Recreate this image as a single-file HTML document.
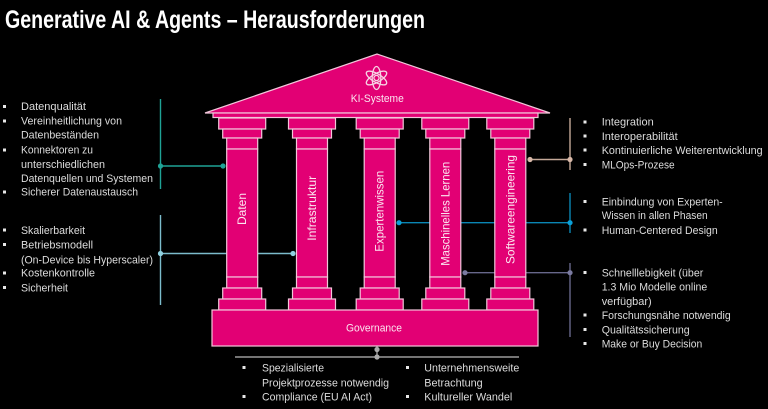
<!DOCTYPE html>
<html><head><meta charset="utf-8"><style>
html,body{margin:0;padding:0;background:#000;}
svg{display:block;}
text{font-family:"Liberation Sans",sans-serif;}
.t{fill:#dcdcdc;font-size:11px;}
.b{fill:#e8e8e8;}
.c{fill:#e20074;stroke:#f2c6da;stroke-width:1.2;}
</style></head><body>
<svg width="768" height="409" viewBox="0 0 768 409" xmlns="http://www.w3.org/2000/svg">
<rect width="768" height="409" fill="#000"/>
<text x="5" y="28" font-size="25" font-weight="bold" fill="#fff" textLength="420" lengthAdjust="spacingAndGlyphs">Generative AI &amp; Agents – Herausforderungen</text>

<!-- connectors -->
<g fill="none" stroke-width="1.4">
<path d="M160.5 99V189M160.5 166H223" stroke="#1fa396"/>
<path d="M160.5 215V305M160.5 253.5H293" stroke="#7cbccc"/>
<path d="M570 118V170M530 159.5H570" stroke="#c4a898"/>
<path d="M570 193V233M399 222.7H570" stroke="#0a86b4"/>
<path d="M570 263V337M465 272.7H570" stroke="#67678a"/>
<path d="M377 346V357M235 357H519" stroke="#9a9a9a"/>
</g>
<g>
<circle cx="160.5" cy="166" r="2.6" fill="#1fa396"/><circle cx="223" cy="166" r="2.6" fill="#1fa396"/>
<circle cx="160.5" cy="253.5" r="2.6" fill="#8fd0e0"/><circle cx="293" cy="253.5" r="2.6" fill="#8fd0e0"/>
<circle cx="570" cy="159.5" r="2.6" fill="#d8b8a8"/><circle cx="530" cy="159.5" r="2.6" fill="#d8b8a8"/>
<circle cx="570" cy="222.7" r="2.6" fill="#0aa0d8"/><circle cx="399" cy="222.7" r="2.6" fill="#0aa0d8"/>
<circle cx="570" cy="272.7" r="2.6" fill="#7a7aa0"/><circle cx="465" cy="272.7" r="2.6" fill="#7a7aa0"/>
<circle cx="377" cy="349.5" r="2.6" fill="#aaa"/><circle cx="377" cy="357" r="2.6" fill="#aaa"/>
</g>

<!-- temple -->
<polygon points="205,113 377,54 550,113" class="c"/>
<rect x="213" y="113" width="325" height="4.5" class="c"/>
<g id="cols">
<g transform="translate(242.2,0)">
<rect x="-23.5" y="118" width="47" height="11" class="c"/><rect x="-19.5" y="129" width="39" height="9" class="c"/>
<rect x="-15.5" y="138" width="31" height="11" class="c"/><rect x="-15.5" y="149" width="31" height="128" class="c"/>
<rect x="-15.5" y="277" width="31" height="11" class="c"/><rect x="-19.5" y="288" width="39" height="11" class="c"/>
<rect x="-23.5" y="299" width="47" height="11" class="c"/>
</g>
<g transform="translate(312,0)">
<rect x="-23.5" y="118" width="47" height="11" class="c"/><rect x="-19.5" y="129" width="39" height="9" class="c"/>
<rect x="-15.5" y="138" width="31" height="11" class="c"/><rect x="-15.5" y="149" width="31" height="128" class="c"/>
<rect x="-15.5" y="277" width="31" height="11" class="c"/><rect x="-19.5" y="288" width="39" height="11" class="c"/>
<rect x="-23.5" y="299" width="47" height="11" class="c"/>
</g>
<g transform="translate(379.7,0)">
<rect x="-23.5" y="118" width="47" height="11" class="c"/><rect x="-19.5" y="129" width="39" height="9" class="c"/>
<rect x="-15.5" y="138" width="31" height="11" class="c"/><rect x="-15.5" y="149" width="31" height="128" class="c"/>
<rect x="-15.5" y="277" width="31" height="11" class="c"/><rect x="-19.5" y="288" width="39" height="11" class="c"/>
<rect x="-23.5" y="299" width="47" height="11" class="c"/>
</g>
<g transform="translate(445.3,0)">
<rect x="-23.5" y="118" width="47" height="11" class="c"/><rect x="-19.5" y="129" width="39" height="9" class="c"/>
<rect x="-15.5" y="138" width="31" height="11" class="c"/><rect x="-15.5" y="149" width="31" height="128" class="c"/>
<rect x="-15.5" y="277" width="31" height="11" class="c"/><rect x="-19.5" y="288" width="39" height="11" class="c"/>
<rect x="-23.5" y="299" width="47" height="11" class="c"/>
</g>
<g transform="translate(510.3,0)">
<rect x="-23.5" y="118" width="47" height="11" class="c"/><rect x="-19.5" y="129" width="39" height="9" class="c"/>
<rect x="-15.5" y="138" width="31" height="11" class="c"/><rect x="-15.5" y="149" width="31" height="128" class="c"/>
<rect x="-15.5" y="277" width="31" height="11" class="c"/><rect x="-19.5" y="288" width="39" height="11" class="c"/>
<rect x="-23.5" y="299" width="47" height="11" class="c"/>
</g>
</g>
<rect x="212" y="310" width="326" height="36" class="c"/>

<!-- atom icon -->
<g transform="translate(376.5,78)" fill="none" stroke="#f6d3e4" stroke-width="1.3">
<ellipse rx="11.5" ry="4.3" transform="rotate(90)"/>
<ellipse rx="11.5" ry="4.3" transform="rotate(30)"/>
<ellipse rx="11.5" ry="4.3" transform="rotate(150)"/>
<circle r="2.6"/>
</g>
<g fill="#fbe6f0" font-size="11">
<text x="377.3" y="102" text-anchor="middle" textLength="53" lengthAdjust="spacingAndGlyphs">KI-Systeme</text>
<text x="374" y="331.5" text-anchor="middle" textLength="56" lengthAdjust="spacingAndGlyphs">Governance</text>
</g>
<g fill="#fbe6f0" font-size="12" text-anchor="middle">
<text transform="translate(242.2,209) rotate(-90)" y="4" textLength="32" lengthAdjust="spacingAndGlyphs">Daten</text>
<text transform="translate(312,208.3) rotate(-90)" y="4" textLength="65" lengthAdjust="spacingAndGlyphs">Infrastruktur</text>
<text transform="translate(379.7,211.2) rotate(-90)" y="4" textLength="81" lengthAdjust="spacingAndGlyphs">Expertenwissen</text>
<text transform="translate(445.3,213.8) rotate(-90)" y="4" textLength="104" lengthAdjust="spacingAndGlyphs">Maschinelles Lernen</text>
<text transform="translate(510.3,209.5) rotate(-90)" y="4" textLength="109" lengthAdjust="spacingAndGlyphs">Softwareengineering</text>
</g>

<!-- left top list -->
<g class="b">
<rect x="3" y="105" width="3" height="3"/><rect x="3" y="119.5" width="3" height="3"/>
<rect x="3" y="148.5" width="3" height="3"/><rect x="3" y="190.5" width="3" height="3"/>
<rect x="3" y="228.5" width="3" height="3"/><rect x="3" y="243" width="3" height="3"/>
<rect x="3" y="271.5" width="3" height="3"/><rect x="3" y="286" width="3" height="3"/>
<rect x="583.5" y="120.5" width="3" height="3"/><rect x="583.5" y="134.5" width="3" height="3"/>
<rect x="583.5" y="148.5" width="3" height="3"/><rect x="583.5" y="163" width="3" height="3"/>
<rect x="583.5" y="200" width="3" height="3"/><rect x="583.5" y="228.5" width="3" height="3"/>
<rect x="583.5" y="271" width="3" height="3"/><rect x="583.5" y="313.5" width="3" height="3"/>
<rect x="583.5" y="328" width="3" height="3"/><rect x="583.5" y="342" width="3" height="3"/>
<rect x="242.5" y="366" width="3" height="3"/><rect x="242.5" y="395" width="3" height="3"/>
<rect x="406" y="366" width="3" height="3"/><rect x="406" y="395" width="3" height="3"/>
</g>
<g class="t" lengthAdjust="spacingAndGlyphs">
<text x="21" y="110" textLength="65" lengthAdjust="spacingAndGlyphs">Datenqualität</text>
<text x="21" y="124.5" textLength="101" lengthAdjust="spacingAndGlyphs">Vereinheitlichung von</text>
<text x="21" y="138.5" textLength="78" lengthAdjust="spacingAndGlyphs">Datenbeständen</text>
<text x="21" y="153.5" textLength="72" lengthAdjust="spacingAndGlyphs">Konnektoren zu</text>
<text x="21" y="168" textLength="84" lengthAdjust="spacingAndGlyphs">unterschiedlichen</text>
<text x="21" y="182" textLength="132" lengthAdjust="spacingAndGlyphs">Datenquellen und Systemen</text>
<text x="21" y="195.5" textLength="117" lengthAdjust="spacingAndGlyphs">Sicherer Datenaustausch</text>

<text x="21" y="234" textLength="64" lengthAdjust="spacingAndGlyphs">Skalierbarkeit</text>
<text x="21" y="248.3" textLength="72" lengthAdjust="spacingAndGlyphs">Betriebsmodell</text>
<text x="21" y="263.3" textLength="132" lengthAdjust="spacingAndGlyphs">(On-Device bis Hyperscaler)</text>
<text x="21" y="276.7" textLength="74" lengthAdjust="spacingAndGlyphs">Kostenkontrolle</text>
<text x="21" y="291.3" textLength="47" lengthAdjust="spacingAndGlyphs">Sicherheit</text>

<text x="601.7" y="125.7" textLength="52" lengthAdjust="spacingAndGlyphs">Integration</text>
<text x="601.7" y="140" textLength="76" lengthAdjust="spacingAndGlyphs">Interoperabilität</text>
<text x="601.7" y="154" textLength="161" lengthAdjust="spacingAndGlyphs">Kontinuierliche Weiterentwicklung</text>
<text x="601.7" y="168.3" textLength="73" lengthAdjust="spacingAndGlyphs">MLOps-Prozese</text>

<text x="601.7" y="205.7" textLength="121" lengthAdjust="spacingAndGlyphs">Einbindung von Experten-</text>
<text x="601.7" y="219" textLength="106" lengthAdjust="spacingAndGlyphs">Wissen in allen Phasen</text>
<text x="601.7" y="234" textLength="116" lengthAdjust="spacingAndGlyphs">Human-Centered Design</text>

<text x="601.7" y="276.7" textLength="101.6" lengthAdjust="spacingAndGlyphs">Schnelllebigkeit (über</text>
<text x="601.7" y="290.7" textLength="105.6" lengthAdjust="spacingAndGlyphs">1.3 Mio Modelle online</text>
<text x="601.7" y="305" textLength="50" lengthAdjust="spacingAndGlyphs">verfügbar)</text>
<text x="601.7" y="319" textLength="129" lengthAdjust="spacingAndGlyphs">Forschungsnähe notwendig</text>
<text x="601.7" y="333.3" textLength="88" lengthAdjust="spacingAndGlyphs">Qualitätssicherung</text>
<text x="601.7" y="347.3" textLength="100.6" lengthAdjust="spacingAndGlyphs">Make or Buy Decision</text>

<text x="262" y="371.7" textLength="62" lengthAdjust="spacingAndGlyphs">Spezialisierte</text>
<text x="262" y="386.3" textLength="127" lengthAdjust="spacingAndGlyphs">Projektprozesse notwendig</text>
<text x="262" y="400.3" textLength="110" lengthAdjust="spacingAndGlyphs">Compliance (EU AI Act)</text>
<text x="424.3" y="371.7" textLength="95" lengthAdjust="spacingAndGlyphs">Unternehmensweite</text>
<text x="424.3" y="386.3" textLength="58.4" lengthAdjust="spacingAndGlyphs">Betrachtung</text>
<text x="424.3" y="400.3" textLength="88" lengthAdjust="spacingAndGlyphs">Kultureller Wandel</text>
</g>
</svg>
</body></html>
